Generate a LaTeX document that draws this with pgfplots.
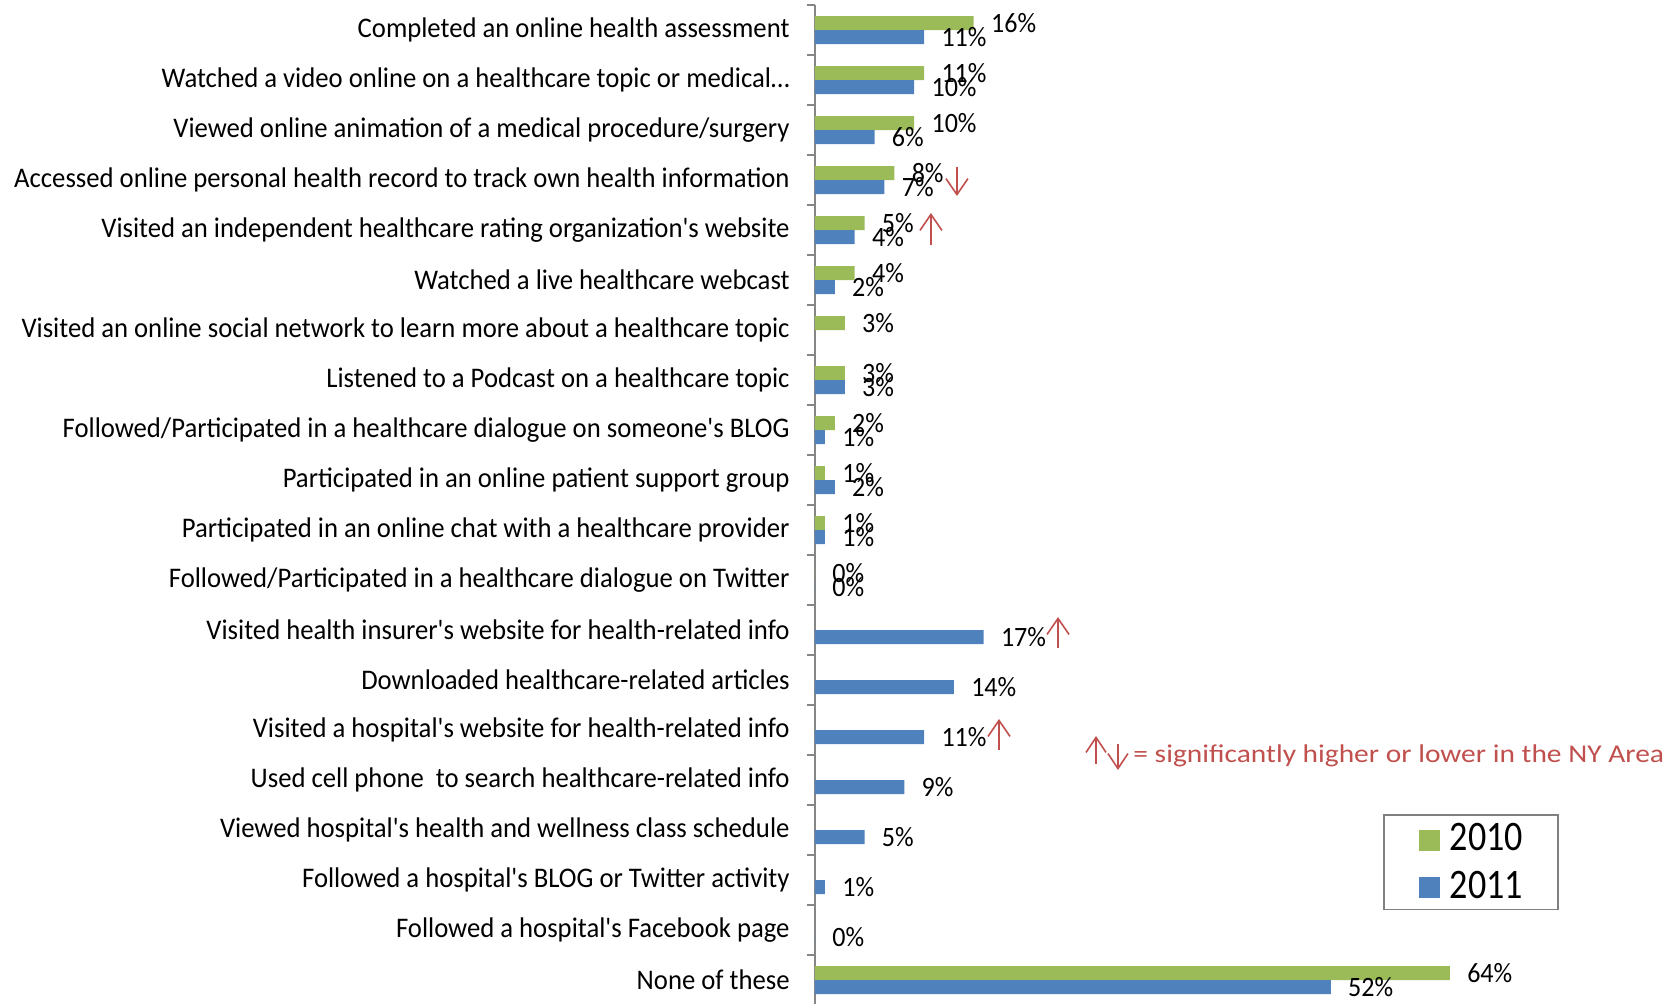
\documentclass[border=0pt]{standalone}
\usepackage{pgfplots}
\pgfplotsset{compat=1.18}
\usepackage{fontspec}
\setmainfont{Carlito}[Ligatures=TeXOff]
\newfontfamily\labfont{Carlito}[Ligatures=TeXOff, FakeStretch=0.94]
\newfontfamily\datfont{Carlito}[Ligatures=TeXOff, FakeStretch=0.93]
\newfontfamily\legfont{Carlito}[Ligatures=TeXOff, FakeStretch=0.86]
\newfontfamily\notefont{Carlito}[Ligatures=TeXOff, FakeStretch=1.15]
\usetikzlibrary{arrows.meta}
\definecolor{g10}{HTML}{9BBB59}
\definecolor{b11}{HTML}{4F81BD}
\definecolor{nyred}{HTML}{C0504D}
\definecolor{axgray}{HTML}{868686}

\begin{document}
\begin{tikzpicture}
\useasboundingbox (-407.5pt,1pt) rectangle (432.5pt,502.5pt);
\begin{axis}[
  at={(0,0)}, anchor=south west,
  scale only axis,
  x=4.96pt, y=25pt,
  xmin=0, xmax=87.2,
  ymin=-0.5, ymax=19.5,
  y dir=reverse,
  axis x line=none,
  axis y line*=left,
  axis line style={axgray, line width=0.75pt},
  xbar, bar width=7pt,
  ytick={0,...,19},
  minor ytick={-0.5,0.5,...,19.5},
  tick align=outside,
  major tick length=0pt, minor tick length=4pt,
  minor tick style={axgray, line width=0.75pt},
  yticklabels={
    {Completed an online health assessment},
    {Watched a video online on a healthcare topic or medical…},
    {Viewed online animation of a medical procedure/surgery},
    {Accessed online personal health record to track own health information},
    {Visited an independent healthcare rating organization's website},
    {Watched a live healthcare webcast},
    {Visited an online social network to learn more about a healthcare topic},
    {Listened to a Podcast on a healthcare topic},
    {Followed/Participated in a healthcare dialogue on someone's BLOG},
    {Participated in an online patient support group},
    {Participated in an online chat with a healthcare provider},
    {Followed/Participated in a healthcare dialogue on Twitter},
    {Visited health insurer's website for health-related info},
    {Downloaded healthcare-related articles},
    {Visited a hospital's website for health-related info},
    {Used cell phone\ \ to search healthcare-related info},
    {Viewed hospital's health and wellness class schedule},
    {Followed a hospital's BLOG or Twitter activity},
    {Followed a hospital's Facebook page},
    {None of these}},
  yticklabel style={font=\labfont\fontsize{14.2}{16}\selectfont, inner sep=0pt, xshift=-12.5pt},
  /pgf/number format/assume math mode=true,
  nodes near coords={\pgfmathprintnumber{\pgfplotspointmeta}\%},
  every node near coord/.append style={font=\datfont\fontsize{14}{16}\selectfont, text=black, anchor=west, inner sep=0pt, xshift=8.5pt},
  legend cell align=left,
  legend image code/.code={\fill[#1] (0pt,-6.25pt) rectangle (10.5pt,4.25pt);},
  legend style={at={(axis description cs:0.6566,0.191)}, anchor=north west,
    draw=gray, line width=0.9pt, font=\legfont\fontsize{21}{25}\selectfont,
    inner xsep=17.5pt, inner ysep=4.2pt, row sep=8.6pt,
    nodes={inner sep=0pt},
    /tikz/every odd column/.append style={column sep=5pt}},
]
\addplot[fill=g10, draw=none, bar shift=3.5pt] coordinates {
  (16,0) (11,1) (10,2) (8,3) (5,4) (4,5) (3,6) (3,7) (2,8) (1,9) (1,10) (0,11) (64,19)};
\addplot[fill=b11, draw=none, bar shift=-3.5pt] coordinates {
  (11,0) (10,1) (6,2) (7,3) (4,4) (2,5) (3,7) (1,8) (2,9) (1,10) (0,11)
  (17,12) (14,13) (11,14) (9,15) (5,16) (1,17) (0,18) (52,19)};
\legend{2010,2011}
% significance markers
\draw[nyred, line width=0.8pt, -{Straight Barb[length=8pt,width=11pt]}] (axis cs:14.31,2.74) -- (axis cs:14.31,3.32);
\draw[nyred, line width=0.8pt, -{Straight Barb[length=8pt,width=11pt]}] (axis cs:11.69,4.30) -- (axis cs:11.69,3.66);
\draw[nyred, line width=0.8pt, -{Straight Barb[length=8pt,width=11pt]}] (axis cs:24.5,12.36) -- (axis cs:24.5,11.74);
\draw[nyred, line width=0.8pt, -{Straight Barb[length=8pt,width=11pt]}] (axis cs:18.55,14.4) -- (axis cs:18.55,13.78);
\draw[nyred, line width=0.8pt, -{Straight Barb[length=7.5pt,width=10pt]}] (axis cs:28.33,14.68) -- (axis cs:28.33,14.12);
\draw[nyred, line width=0.8pt, -{Straight Barb[length=7.5pt,width=10pt]}] (axis cs:30.54,14.28) -- (axis cs:30.54,14.8);
\node[anchor=base west, inner sep=0pt, text=nyred, font=\notefont\fontsize{12.8}{15}\selectfont] at (axis cs:32.06,14.64) {= significantly higher or lower in the NY Area};
\end{axis}
\end{tikzpicture}
\end{document}
